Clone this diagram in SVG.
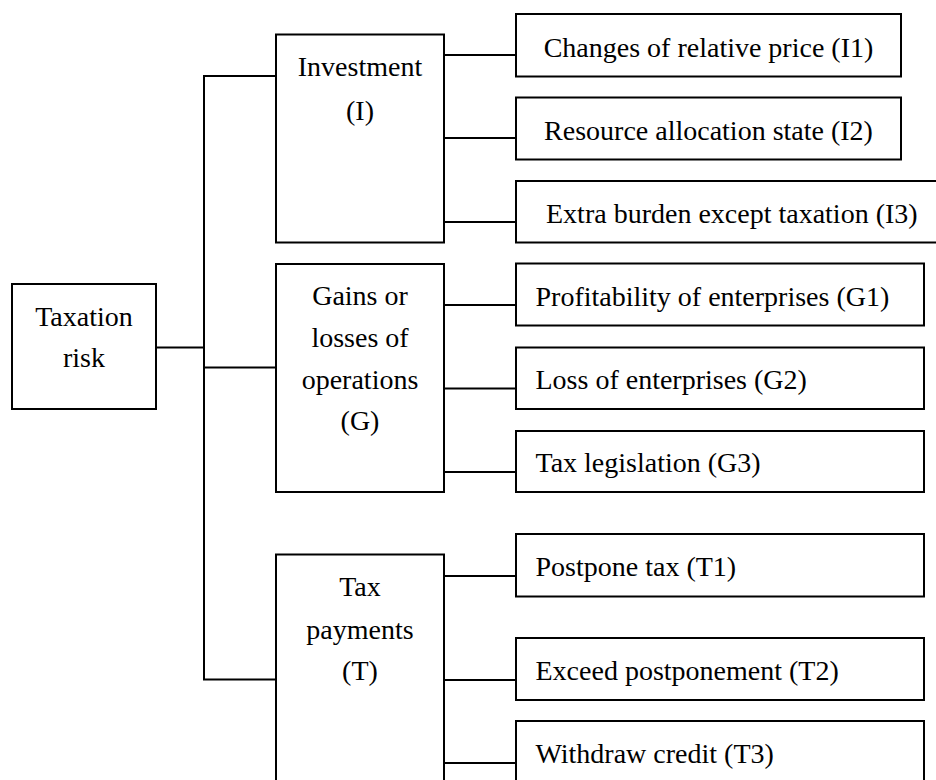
<svg xmlns="http://www.w3.org/2000/svg" width="936" height="780" viewBox="0 0 936 780">
<style>
  rect { fill: #fff; stroke: #000; stroke-width: 2; }
  .c line, .c path { stroke: #000; stroke-width: 2; fill: none; }
  text { font-family: "Liberation Serif", "Times New Roman", serif; font-size: 28px; fill: #000; }
  .m { text-anchor: middle; }
</style>
<rect x="0" y="0" width="936" height="780" style="stroke:none;fill:#fff"/>
<g class="c" id="connectors">
  <line x1="156" y1="347.5" x2="204" y2="347.5"/>
  <path d="M276 76 H204 V679.5 H276"/>
  <line x1="204" y1="367.5" x2="276" y2="367.5"/>
  <line x1="444" y1="55" x2="516" y2="55"/>
  <line x1="444" y1="138" x2="516" y2="138"/>
  <line x1="444" y1="222" x2="516" y2="222"/>
  <line x1="444" y1="305" x2="516" y2="305"/>
  <line x1="444" y1="388.5" x2="516" y2="388.5"/>
  <line x1="444" y1="472" x2="516" y2="472"/>
  <line x1="444" y1="576" x2="516" y2="576"/>
  <line x1="444" y1="680" x2="516" y2="680"/>
  <line x1="444" y1="763" x2="516" y2="763"/>
</g>
<g id="root">
  <rect x="12" y="284" width="144" height="125"/>
  <text class="m" x="84" y="326">Taxation</text>
  <text class="m" x="84" y="367">risk</text>
</g>
<g id="investment">
  <rect x="276" y="34.5" width="168" height="208"/>
  <text class="m" x="360" y="76">Investment</text>
  <text class="m" x="360" y="119.5">(I)</text>
</g>
<g id="gains">
  <rect x="276" y="264" width="168" height="228"/>
  <text class="m" x="360" y="305">Gains or</text>
  <text class="m" x="360" y="347">losses of</text>
  <text class="m" x="360" y="388.5">operations</text>
  <text class="m" x="360" y="430">(G)</text>
</g>
<g id="taxpayments">
  <rect x="276" y="554.5" width="168" height="240"/>
  <text class="m" x="360" y="596">Tax</text>
  <text class="m" x="360" y="638.5">payments</text>
  <text class="m" x="360" y="680">(T)</text>
</g>
<g id="I1">
  <rect x="516" y="14" width="385" height="62.5"/>
  <text class="m" x="708.5" y="56.5">Changes of relative price (I1)</text>
</g>
<g id="I2">
  <rect x="516" y="97.5" width="385" height="62"/>
  <text class="m" x="708.5" y="139.5">Resource allocation state (I2)</text>
</g>
<g id="I3">
  <rect x="516" y="181" width="430" height="61.5"/>
  <text x="546" y="222.5">Extra burden except taxation (I3)</text>
</g>
<g id="G1">
  <rect x="516" y="263.5" width="408" height="62"/>
  <text x="535.5" y="305.5">Profitability of enterprises (G1)</text>
</g>
<g id="G2">
  <rect x="516" y="347.5" width="408" height="61.5"/>
  <text x="535.5" y="389">Loss of enterprises (G2)</text>
</g>
<g id="G3">
  <rect x="516" y="431" width="408" height="61"/>
  <text x="535.5" y="472">Tax legislation (G3)</text>
</g>
<g id="T1">
  <rect x="516" y="534" width="408" height="62.5"/>
  <text x="535.5" y="576">Postpone tax (T1)</text>
</g>
<g id="T2">
  <rect x="516" y="638" width="408" height="62"/>
  <text x="535.5" y="680">Exceed postponement (T2)</text>
</g>
<g id="T3">
  <rect x="516" y="721" width="408" height="80"/>
  <text x="535.5" y="763">Withdraw credit (T3)</text>
</g>
</svg>
